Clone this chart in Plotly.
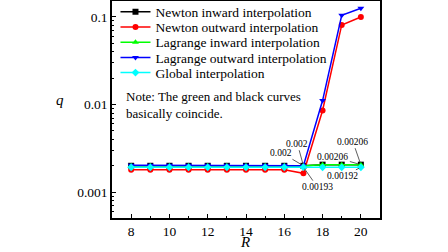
import math
import plotly.graph_objects as go

R = [8, 9, 10, 11, 12, 13, 14, 15, 16, 17, 18, 19, 20]
newton_inward = [0.0020, 0.0020, 0.0020, 0.0020, 0.0020, 0.0020, 0.0020, 0.0020, 0.0020, 0.0020, 0.00206, 0.00206, 0.00206]
newton_outward = [0.00180, 0.00180, 0.00180, 0.00180, 0.00180, 0.00180, 0.00180, 0.00180, 0.00180, 0.00164, 0.00855, 0.081, 0.100]
lagrange_inward = [0.0020, 0.0020, 0.0020, 0.0020, 0.0020, 0.0020, 0.0020, 0.0020, 0.0020, 0.0020, 0.00206, 0.00206, 0.00206]
lagrange_outward = [0.00203, 0.00203, 0.00203, 0.00203, 0.00203, 0.00203, 0.00203, 0.00203, 0.00203, 0.0020, 0.0111, 0.1045, 0.1255]
global_interp = [0.00192, 0.00192, 0.00192, 0.00192, 0.00192, 0.00192, 0.00192, 0.00192, 0.00192, 0.00193, 0.00192, 0.00192, 0.00192]

series = [
    ("Newton inward interpolation", newton_inward, "black", "square"),
    ("Newton outward interpolation", newton_outward, "red", "circle"),
    ("Lagrange inward interpolation", lagrange_inward, "#00ff00", "triangle-up"),
    ("Lagrange outward interpolation", lagrange_outward, "blue", "triangle-down"),
    ("Global interpolation", global_interp, "cyan", "diamond"),
]

FONT = "Liberation Serif"

W, H = 448, 252
ML, MR, MT, MB = 112, 68, 1, 34
PW = W - ML - MR
PH = H - MT - MB


def px(xp):
    return (xp - ML) / PW


def py(yp):
    return 1 - (yp - MT) / PH


fig = go.Figure()
legend_layout = {}
for i, (name, vals, col, sym) in enumerate(series):
    lg = "legend" if i == 0 else f"legend{i + 1}"
    fig.add_trace(go.Scatter(
        x=R, y=vals, name=name, mode="lines+markers",
        line=dict(color=col, width=1.5),
        marker=dict(color=col, symbol=sym, size=6),
        legend=lg,
    ))
    legend_layout[lg] = dict(
        x=0.013, y=py(12 + 15.2 * i), xanchor="left", yanchor="middle",
        bgcolor="rgba(0,0,0,0)", borderwidth=0, itemwidth=30,
        font=dict(size=13.5, family=FONT, color="black"),
    )

# value labels: (text, x, y, ax, ay)
notes = [
    ("0.002", 17, 0.0020, -6, -22),
    ("0.002", 17, 0.0020, -22, -13),
    ("0.00193", 17, 0.00193, 14, 20),
    ("0.00206", 20, 0.00206, -28, -8),
    ("0.00206", 20, 0.00206, -8, -23),
    ("0.00192", 20, 0.00192, -18, 9),
]
for t, x, y, ax, ay in notes:
    fig.add_annotation(x=x, y=math.log10(y), text=t, showarrow=True, arrowhead=0,
                       arrowwidth=0.8, arrowcolor="#333", ax=ax, ay=ay,
                       standoff=2, font=dict(size=9.5, family=FONT, color="black"))

fig.add_annotation(xref="paper", yref="paper", x=px(124), y=py(104.5),
                   xanchor="left", yanchor="middle", align="left", showarrow=False,
                   text="Note: The green and black curves<br>basically coincide.",
                   font=dict(size=13, family=FONT, color="black"))

# axis titles
fig.add_annotation(xref="paper", yref="paper", x=px(60), y=py(100),
                   xanchor="center", yanchor="middle", showarrow=False,
                   text="<i>q</i>", font=dict(size=15, family=FONT, color="black"))
fig.add_annotation(xref="paper", yref="paper", x=px(245), y=py(251.5),
                   xanchor="center", yanchor="bottom", showarrow=False,
                   text="<i>R</i>", font=dict(size=15, family=FONT, color="black"))

fig.update_layout(
    width=W, height=H,
    margin=dict(l=ML, r=MR, t=MT, b=MB, autoexpand=False),
    paper_bgcolor="white", plot_bgcolor="white",
    font=dict(family=FONT, color="black", size=13.5),
    showlegend=True,
    **legend_layout,
)
fig.update_xaxes(
    range=[7, 21], tickvals=[8, 10, 12, 14, 16, 18, 20],
    ticks="inside", ticklen=4, tickwidth=1, tickcolor="black",
    minor=dict(tickvals=[9, 11, 13, 15, 17, 19], ticks="inside", ticklen=2, tickcolor="black"),
    showline=True, linecolor="black", linewidth=1.5, mirror=True,
    showgrid=False, zeroline=False, automargin=False,
    tickfont=dict(size=13.5, family=FONT),
)
fig.update_yaxes(
    type="log", range=[-3.295, -0.818],
    tickvals=[0.001, 0.01, 0.1], ticktext=["0.001", "0.01", "0.1"],
    ticks="inside", ticklen=4, tickwidth=1, tickcolor="black",
    minor=dict(ticks="inside", ticklen=2, tickcolor="black",
               tickvals=[v * m for v in [0.0001, 0.001, 0.01, 0.1] for m in range(2, 10)]),
    showline=True, linecolor="black", linewidth=1.5, mirror=True,
    showgrid=False, zeroline=False, automargin=False,
    tickfont=dict(size=13.5, family=FONT),
)

fig.write_html("out.html", config={"displayModeBar": False},
               post_script="document.body.style.margin='0';")
